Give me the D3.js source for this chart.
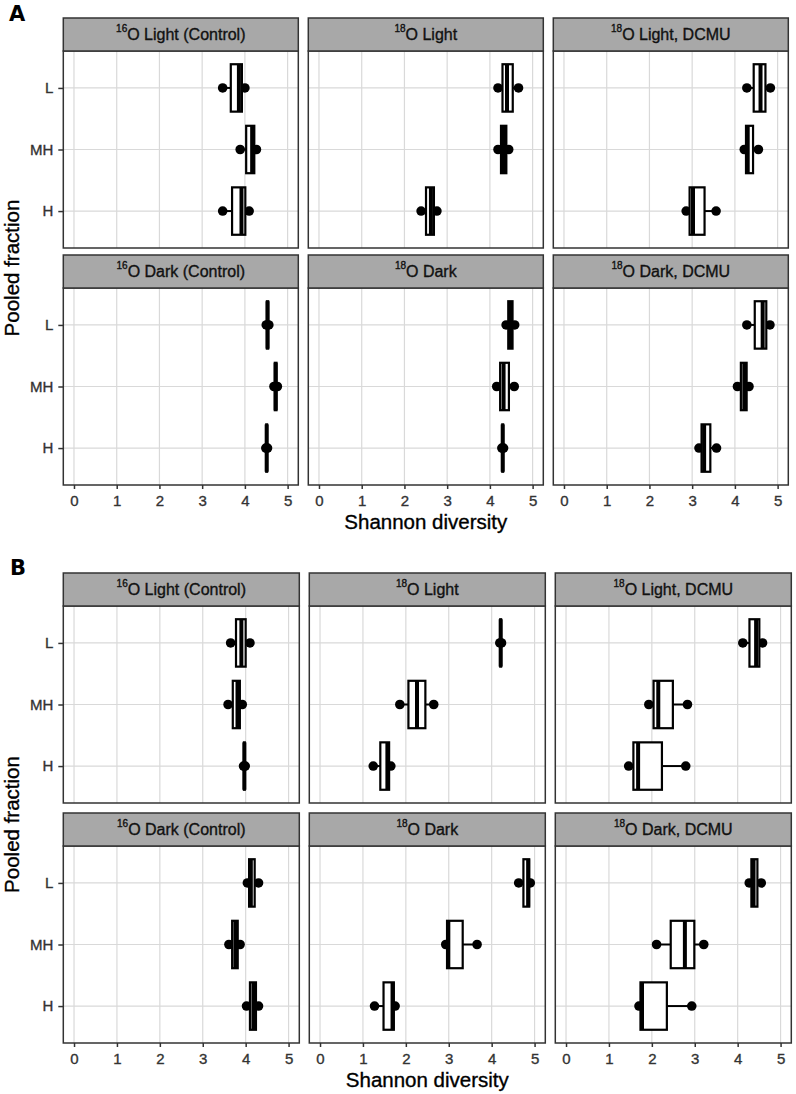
<!DOCTYPE html>
<html>
<head>
<meta charset="utf-8">
<script src="https://cdn.jsdelivr.net/npm/d3@7"></script>
<style>
  body { margin: 0; background: #fff; }
  svg { display: block; font-family: "Liberation Sans", Arial, sans-serif; }
</style>
</head>
<body>
<div id="chart"></div>
<script>
const fractions = ["L", "MH", "H"];
const isotopes = ["16", "18", "18", "16", "18", "18"];
const treatments = ["O Light (Control)", "O Light", "O Light, DCMU", "O Dark (Control)", "O Dark", "O Dark, DCMU"];
const xTicks = [0, 1, 2, 3, 4, 5];

// Shannon diversity replicates: one entry per facet (same order as treatments), then L / MH / H
const shannonA = [
  [[3.48, 3.86, 4.00], [3.89, 4.17, 4.27], [3.48, 3.92, 4.10]],
  [[4.19, 4.40, 4.67], [4.19, 4.33, 4.44], [2.39, 2.62, 2.76]],
  [[4.28, 4.60, 4.83], [4.22, 4.30, 4.55], [2.86, 3.02, 3.56]],
  [[4.50, 4.53, 4.56], [4.68, 4.72, 4.76], [4.49, 4.51, 4.53]],
  [[4.38, 4.48, 4.58], [4.16, 4.32, 4.57], [4.28, 4.30, 4.32]],
  [[4.28, 4.65, 4.82], [4.06, 4.22, 4.33], [3.16, 3.28, 3.57]]
];
const shannonB = [
  [[3.65, 3.90, 4.10], [3.59, 3.81, 3.92], [3.95, 3.97, 3.99]],
  [[4.19, 4.21, 4.23], [1.86, 2.26, 2.65], [1.24, 1.57, 1.65]],
  [[4.12, 4.43, 4.58], [1.93, 2.15, 2.83], [1.46, 1.68, 2.79]],
  [[4.04, 4.12, 4.30], [3.61, 3.76, 3.87], [4.02, 4.18, 4.30]],
  [[4.63, 4.85, 4.90], [2.93, 2.99, 3.66], [1.27, 1.69, 1.75]],
  [[4.27, 4.37, 4.55], [2.11, 2.77, 3.21], [1.70, 1.77, 2.93]]
];

// layout of the two figure parts (B came from a slightly wider image)
const figures = [
  { tag: "A", data: shannonA, top: 18, left: 63.3, panelW: 235, colGap: 10, stripH: 33, panelH: 197, rowGap: 7, tagX: 9, tagY: 21 },
  { tag: "B", data: shannonB, top: 573, left: 63.3, panelW: 236, colGap: 10, stripH: 33, panelH: 197, rowGap: 10, tagX: 10, tagY: 575 }
];

const W = 796, H = 1094;
const svg = d3.select("#chart").append("svg").attr("width", W).attr("height", H);

// ggplot text in the source is heavy after downscaling, a hairline stroke mimics that
const heavy = (sel, c) => sel.attr("fill", c).attr("stroke", c).attr("stroke-width", 0.35);

figures.forEach((fig) => {
  const g = svg.append("g");

  g.append("text")
    .attr("x", fig.tagX)
    .attr("y", fig.tagY)
    .attr("font-family", "DejaVu Sans")
    .attr("font-weight", "bold")
    .attr("font-size", 21)
    .attr("fill", "#000")
    .text(fig.tag);

  let plotBottom = 0;

  fig.data.forEach((panel, i) => {
    const col = i % 3;
    const row = Math.floor(i / 3);
    const x0 = fig.left + col * (fig.panelW + fig.colGap);
    const yStrip = fig.top + row * (fig.stripH + fig.panelH + fig.rowGap);
    const y0 = yStrip + fig.stripH;
    plotBottom = Math.max(plotBottom, y0 + fig.panelH);

    const x = d3.scaleLinear().domain([-0.25, 5.25]).range([x0, x0 + fig.panelW]);
    const y = d3.scalePoint().domain(fractions).range([y0, y0 + fig.panelH]).padding(0.6);

    const p = g.append("g");

    // grid
    p.append("rect")
      .attr("x", x0).attr("y", y0)
      .attr("width", fig.panelW).attr("height", fig.panelH)
      .attr("fill", "#fff");
    p.selectAll(".vgrid").data(xTicks).enter().append("line")
      .attr("x1", (d) => x(d)).attr("x2", (d) => x(d))
      .attr("y1", y0).attr("y2", y0 + fig.panelH)
      .attr("stroke", "#d9d9d9").attr("stroke-width", 1.2);
    p.selectAll(".hgrid").data(fractions).enter().append("line")
      .attr("x1", x0).attr("x2", x0 + fig.panelW)
      .attr("y1", (d) => y(d)).attr("y2", (d) => y(d))
      .attr("stroke", "#d9d9d9").attr("stroke-width", 1.2);

    // boxplots (points under the box like the ggplot layer order)
    const bh = y.step() * 0.77;
    fractions.forEach((f, j) => {
      const vals = panel[j].slice().sort(d3.ascending);
      const q1 = d3.quantile(vals, 0.25);
      const med = d3.quantile(vals, 0.5);
      const q3 = d3.quantile(vals, 0.75);
      const lo = d3.min(vals), hi = d3.max(vals);
      const cy = y(f);

      p.append("line")
        .attr("x1", x(lo)).attr("x2", x(q1)).attr("y1", cy).attr("y2", cy)
        .attr("stroke", "#000").attr("stroke-width", 2);
      p.append("line")
        .attr("x1", x(q3)).attr("x2", x(hi)).attr("y1", cy).attr("y2", cy)
        .attr("stroke", "#000").attr("stroke-width", 2);

      p.selectAll(null).data(vals).enter().append("circle")
        .attr("cx", (d) => x(d)).attr("cy", cy).attr("r", 4.8)
        .attr("fill", "#000");

      p.append("rect")
        .attr("x", x(q1)).attr("y", cy - bh / 2)
        .attr("width", Math.max(0, x(q3) - x(q1))).attr("height", bh)
        .attr("fill", "#fff").attr("stroke", "#000").attr("stroke-width", 2.2);
      p.append("line")
        .attr("x1", x(med)).attr("x2", x(med))
        .attr("y1", cy - bh / 2).attr("y2", cy + bh / 2)
        .attr("stroke", "#000").attr("stroke-width", 4);
    });

    // panel border
    p.append("rect")
      .attr("x", x0).attr("y", y0)
      .attr("width", fig.panelW).attr("height", fig.panelH)
      .attr("fill", "none").attr("stroke", "#333").attr("stroke-width", 1.5);

    // strip
    p.append("rect")
      .attr("x", x0).attr("y", yStrip)
      .attr("width", fig.panelW).attr("height", fig.stripH)
      .attr("fill", "#a8a8a8").attr("stroke", "#333").attr("stroke-width", 1.5);
    const st = p.append("text")
      .attr("x", x0 + fig.panelW / 2)
      .attr("y", yStrip + fig.stripH / 2 + 5.5)
      .attr("text-anchor", "middle")
      .attr("font-size", 16);
    heavy(st, "#111");
    st.append("tspan").attr("font-size", 10).attr("dy", -8).text(isotopes[i]);
    st.append("tspan").attr("dy", 8).text(treatments[i]);

    // axes
    if (row === 1) {
      const ax = p.append("g")
        .attr("transform", `translate(0,${y0 + fig.panelH})`)
        .call(d3.axisBottom(x).tickValues(xTicks).tickFormat(d3.format("d")).tickSize(4).tickPadding(6.5));
      ax.select(".domain").remove();
      ax.selectAll(".tick line").attr("stroke", "#333").attr("stroke-width", 1.5);
      heavy(ax.selectAll(".tick text"), "#333")
        .attr("font-size", 15)
        .attr("font-family", "Liberation Sans, Arial, sans-serif");
    }
    if (col === 0) {
      const ay = p.append("g")
        .attr("transform", `translate(${x0},0)`)
        .call(d3.axisLeft(y).tickSize(5).tickPadding(5));
      ay.select(".domain").remove();
      ay.selectAll(".tick line").attr("stroke", "#333").attr("stroke-width", 1.5);
      heavy(ay.selectAll(".tick text"), "#333")
        .attr("font-size", 15)
        .attr("font-family", "Liberation Sans, Arial, sans-serif");
    }
  });

  const plotLeft = fig.left;
  const plotRight = fig.left + 3 * fig.panelW + 2 * fig.colGap;
  const plotTop = fig.top + fig.stripH;

  heavy(g.append("text"), "#000")
    .attr("x", (plotLeft + plotRight) / 2)
    .attr("y", plotBottom + 44)
    .attr("text-anchor", "middle")
    .attr("font-size", 20.5)
    .text("Shannon diversity");

  heavy(g.append("text"), "#000")
    .attr("transform", `translate(18.5,${(plotTop + plotBottom) / 2}) rotate(-90)`)
    .attr("text-anchor", "middle")
    .attr("font-size", 20.5)
    .text("Pooled fraction");
});
</script>
</body>
</html>
